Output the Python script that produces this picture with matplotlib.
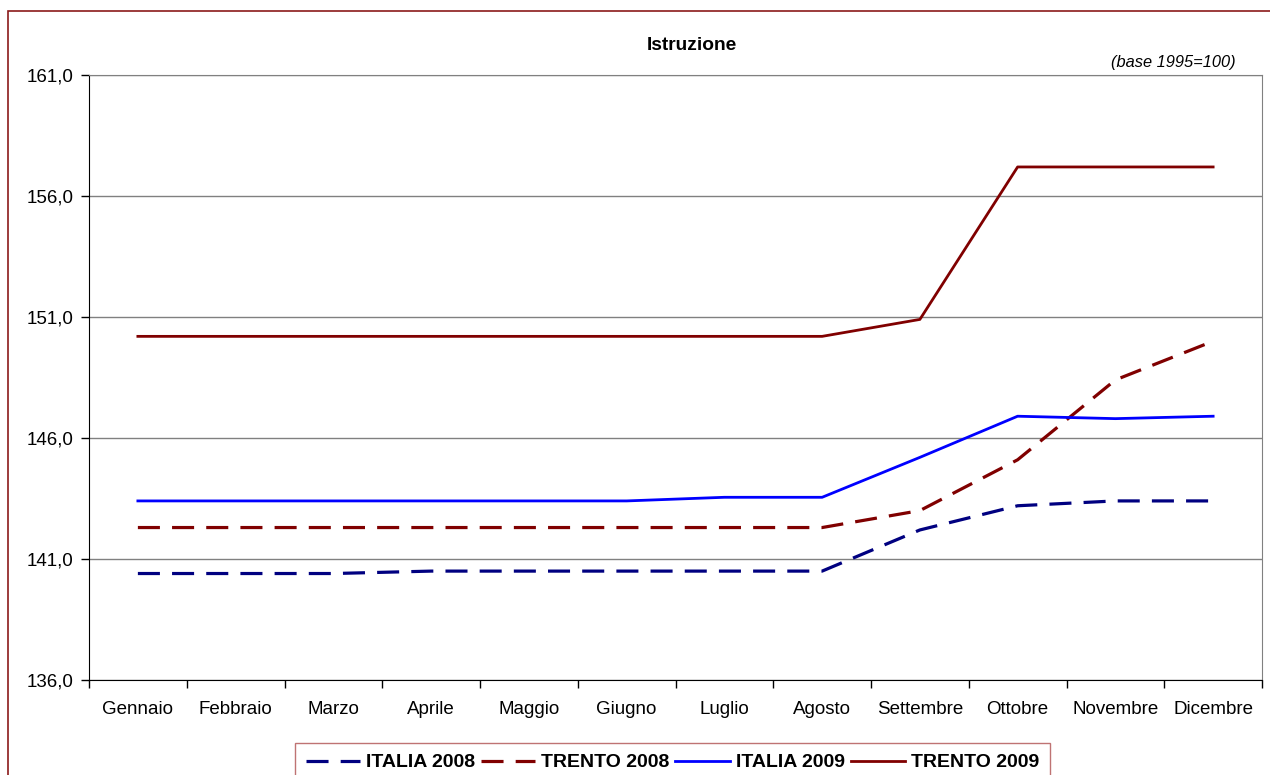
import matplotlib
matplotlib.use("Agg")
import matplotlib.pyplot as plt
from matplotlib.patches import Rectangle
from matplotlib.ticker import FuncFormatter, FixedLocator

plt.rcParams["font.family"] = ["Liberation Sans", "DejaVu Sans"]

months = ["Gennaio", "Febbraio", "Marzo", "Aprile", "Maggio", "Giugno",
          "Luglio", "Agosto", "Settembre", "Ottobre", "Novembre", "Dicembre"]
italia_2008 = [140.4, 140.4, 140.4, 140.5, 140.5, 140.5, 140.5, 140.5, 142.2, 143.2, 143.4, 143.4]
trento_2008 = [142.3, 142.3, 142.3, 142.3, 142.3, 142.3, 142.3, 142.3, 143.0, 145.1, 148.4, 150.0]
italia_2009 = [143.4, 143.4, 143.4, 143.4, 143.4, 143.4, 143.55, 143.55, 145.2, 146.9, 146.8, 146.9]
trento_2009 = [150.2, 150.2, 150.2, 150.2, 150.2, 150.2, 150.2, 150.2, 150.9, 157.2, 157.2, 157.2]
y_ticks = [136, 141, 146, 151, 156, 161]

fig = plt.figure(figsize=(12.7, 7.75), dpi=100)
ax = fig.add_axes([89 / 1270, 1 - 680 / 775, (1262 - 89) / 1270, (680 - 75) / 775])

# outer chart-area frame
fig.patches.append(Rectangle((8 / 1270, -0.01), 1.0, 1 - 11 / 775 + 0.01,
                             transform=fig.transFigure, fill=False,
                             edgecolor="#8B1A1A", linewidth=1.2))

x = [i + 0.5 for i in range(len(months))]
dash = (0, (6.9, 3.8))
ax.plot(x, italia_2008, color="#000080", lw=2.3, linestyle=dash, label="ITALIA 2008")
ax.plot(x, trento_2008, color="#800000", lw=2.3, linestyle=dash, label="TRENTO 2008")
ax.plot(x, italia_2009, color="#0000FF", lw=2.0, label="ITALIA 2009")
ax.plot(x, trento_2009, color="#800000", lw=2.0, label="TRENTO 2009")

ax.set_xlim(0, 12)
ax.set_ylim(136, 161)
ax.yaxis.set_major_locator(FixedLocator(y_ticks))
ax.yaxis.set_major_formatter(FuncFormatter(lambda v, p: f"{v:.1f}".replace(".", ",")))
ax.grid(axis="y", color="#808080", lw=1.0)
ax.set_axisbelow(True)

ax.set_xticks(range(13))
ax.set_xticklabels([])
ax.set_xticks(x, minor=True)
ax.set_xticklabels(months, minor=True)
ax.tick_params(axis="x", which="minor", length=0, pad=15, labelsize=13.5)
ax.tick_params(axis="x", which="major", length=6, width=1, color="black")
ax.tick_params(axis="y", length=6, width=1, labelsize=13.5, pad=5)

ax.spines["left"].set_color("black")
ax.spines["bottom"].set_color("black")
ax.spines["top"].set_color("#808080")
ax.spines["right"].set_color("#808080")

fig.text(692 / 1270, 1 - 46 / 775, "Istruzione", ha="center", va="center",
         fontsize=13.8, fontweight="bold")
fig.text(1236 / 1270, 1 - 62 / 775, "(base 1995=100)", ha="right", va="center",
         fontsize=11.8, style="italic")

leg = fig.legend(loc="upper left", bbox_to_anchor=(295 / 1270, 1 - 743 / 775),
                 ncol=4, frameon=True, fancybox=False, handlelength=2.8,
                 handletextpad=0.3, columnspacing=0.3, borderpad=0.55,
                 borderaxespad=0, prop={"weight": "bold", "size": 14})
leg.get_frame().set_edgecolor("#B05050")
leg.get_frame().set_linewidth(1.0)

fig.savefig("out.png", dpi=100)
